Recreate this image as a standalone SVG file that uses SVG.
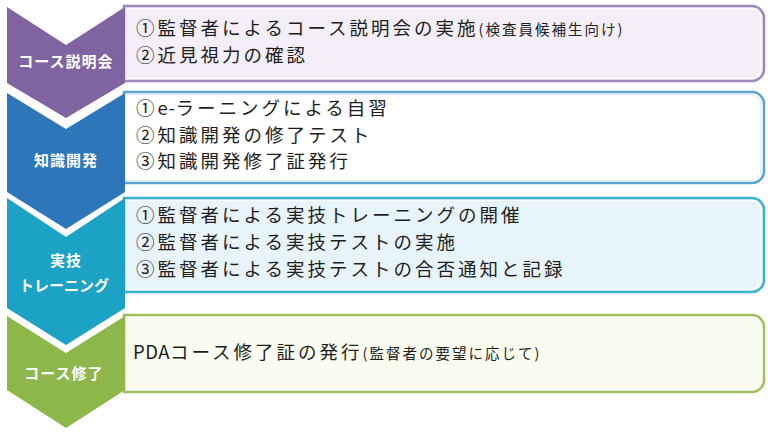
<svg xmlns="http://www.w3.org/2000/svg" width="768" height="439" viewBox="0 0 768 439">
<defs>
<style>
.lbl{font-family:"Noto Sans CJK JP","Noto Sans",sans-serif;font-weight:bold;fill:#fff;font-size:15px;text-anchor:middle;letter-spacing:1px}
.t{font-family:"Noto Sans CJK JP","Noto Sans",sans-serif;fill:#1e1e1e;font-size:18.5px;letter-spacing:3px}
.s{font-size:14.5px;letter-spacing:2px}
.l{letter-spacing:0.5px}
.inner{fill:none;stroke:#fff;stroke-width:1.2;opacity:0.9}
</style>
</defs>
<rect width="768" height="439" fill="#fff"/>
<g id="connectors"></g>
<g id="step1">
<path d="M124,6 H752 A12,12 0 0 1 764,18 V69 A12,12 0 0 1 752,81 H124 Z" fill="#F4EEF9" stroke="#9E86BE" stroke-width="2.5"/>
<path d="M126,8.5 H750 A10,10 0 0 1 761,19 V68 A10,10 0 0 1 750,78.5 H126" class="inner"/>
<path d="M7,7 L66,45 L125,7 L125,83 L66,118 L7,83 Z" fill="#8064A2"/>
<text class="lbl" x="66" y="67">コース説明会</text>
<text class="t" x="136" y="35">①監督者によるコース説明会の実施<tspan class="s">(検査員候補生向け)</tspan></text>
<text class="t" x="136" y="62">②近見視力の確認</text>
</g>
<g id="step2">
<path d="M124,92 H752 A12,12 0 0 1 764,104 V171 A12,12 0 0 1 752,183 H124 Z" fill="#FFFFFF" stroke="#5AA2D4" stroke-width="2.5"/>
<path d="M126,94.5 H750 A10,10 0 0 1 761,105 V170 A10,10 0 0 1 750,180.5 H126" fill="none" stroke="#D6E8F5" stroke-width="1"/>
<path d="M7,93 L66,129 L125,93 L125,192 L66,229 L7,192 Z" fill="#2E76BA"/>
<text class="lbl" x="66" y="166">知識開発</text>
<text class="t" x="136" y="115">①<tspan class="l">e-</tspan>ラーニングによる自習</text>
<text class="t" x="136" y="142">②知識開発の修了テスト</text>
<text class="t" x="136" y="168">③知識開発修了証発行</text>
</g>
<g id="step3">
<path d="M124,198 H752 A12,12 0 0 1 764,210 V280 A12,12 0 0 1 752,292 H124 Z" fill="#E8F4FC" stroke="#3DB1CF" stroke-width="2.5"/>
<path d="M126,200.5 H750 A10,10 0 0 1 761,211 V279 A10,10 0 0 1 750,289.5 H126" class="inner"/>
<path d="M7,198 L66,237 L125,198 L125,308 L66,345 L7,308 Z" fill="#1BA2C4"/>
<text class="lbl" x="66" y="266">実技</text>
<text class="lbl" x="64" y="291" style="letter-spacing:0px">トレーニング</text>
<text class="t" x="136" y="222">①監督者による実技トレーニングの開催</text>
<text class="t" x="136" y="249">②監督者による実技テストの実施</text>
<text class="t" x="136" y="276">③監督者による実技テストの合否通知と記録</text>
</g>
<g id="step4">
<path d="M124,315 H752 A12,12 0 0 1 764,327 V380 A12,12 0 0 1 752,392 H124 Z" fill="#F9FCEF" stroke="#A0C060" stroke-width="2.5"/>
<path d="M126,317.5 H750 A10,10 0 0 1 761,328 V379 A10,10 0 0 1 750,389.5 H126" class="inner"/>
<path d="M7,316 L66,353 L125,316 L125,390 L66,428 L7,390 Z" fill="#8DB64B"/>
<text class="lbl" x="64" y="379">コース修了</text>
<text class="t" x="133" y="359"><tspan class="l">PDA</tspan>コース修了証の発行<tspan class="s">(監督者の要望に応じて)</tspan></text>
</g>
</svg>
